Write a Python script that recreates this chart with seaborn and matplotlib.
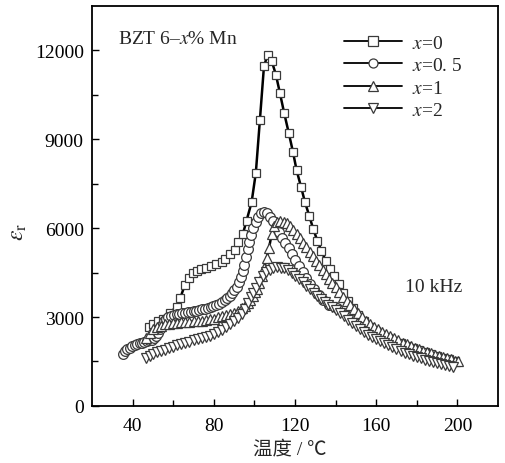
import matplotlib
matplotlib.use("Agg")
import matplotlib.pyplot as plt
import seaborn as sns
import pandas as pd

# ---------------- data ----------------
t_x0 = [47.9, 50.0, 52.5, 55.0, 58.3, 61.6, 63.5, 65.7, 67.7, 69.8, 71.8, 73.9, 76.3,
        78.8, 81.3, 83.8, 85.4, 88.0, 90.4, 92.0, 94.3, 96.1, 98.6, 100.7, 102.7, 104.7,
        106.5, 108.5, 110.6, 112.6, 114.7, 116.9, 119.0, 120.8, 123.0, 124.9, 127.1,
        129.0, 131.0, 133.0, 135.1, 137.3, 139.4, 141.6, 143.8, 146.0, 148.5, 151.0,
        154.0, 157.0, 160.0, 163.0, 166.0, 169.0, 172.0, 175.0, 178.0, 181.0, 184.0,
        187.0, 190.0, 193.0, 196.0, 199.0]
e_x0 = [2670, 2750, 2850, 2950, 3140, 3350, 3650, 4080, 4330, 4480, 4545, 4610, 4670,
        4730, 4790, 4860, 4970, 5120, 5270, 5520, 5800, 6250, 6870, 7870, 9650, 11460,
        11855, 11650, 11175, 10550, 9875, 9220, 8575, 7950, 7390, 6880, 6400,
        5970, 5580, 5240, 4900, 4615, 4390, 4100, 3800, 3540, 3290, 3070,
        2860, 2680, 2520, 2400, 2300, 2200, 2110, 2030, 1950, 1880, 1810,
        1750, 1690, 1630, 1580, 1520]

t_x05 = [35.0, 36.2, 37.4, 38.6, 39.8, 41.0, 42.2, 43.4, 44.6, 45.8, 47.0, 48.2, 49.4,
         50.6, 51.6, 52.6, 53.5, 54.3, 55.2, 56.2, 57.4, 58.8, 60.2, 61.6, 63.0, 64.4,
         65.8, 67.2, 68.6, 70.0, 71.4, 72.8, 74.2, 75.6, 77.0, 78.4, 79.8, 81.2, 82.6,
         84.0, 85.3, 86.6, 87.8, 89.0, 90.1, 91.2, 92.3, 93.3, 94.2, 95.0, 95.8, 96.6,
         97.4, 98.4, 99.5, 100.7, 102.0, 103.4, 104.8, 106.2, 107.6, 109.0, 110.5, 112.0,
         113.6, 115.2, 116.8, 118.5, 120.2, 122.0, 123.8, 125.6, 127.4, 129.4, 131.6,
         134.0, 137.0, 140.5]
e_x05 = [1760, 1850, 1920, 1970, 2010, 2050, 2080, 2110, 2140, 2160, 2190, 2210, 2240,
         2290, 2360, 2470, 2600, 2740, 2860, 2940, 3000, 3040, 3070, 3090, 3110, 3130,
         3150, 3160, 3180, 3200, 3220, 3240, 3260, 3280, 3310, 3340, 3370, 3410, 3450,
         3500, 3560, 3630, 3710, 3800, 3900, 4020, 4170, 4350, 4550, 4770, 5020, 5280,
         5530, 5780, 6010, 6220, 6390, 6500, 6550, 6500, 6380, 6230, 6050, 5870,
         5680, 5500, 5330, 5140, 4940, 4730, 4530, 4330, 4130, 3930, 3730,
         3560, 3420, 3310]

t_x1 = [46.8, 48.5, 50.2, 52.0, 54.0, 56.0, 58.0, 60.0, 62.0, 64.0, 66.0, 68.0, 70.0,
        72.0, 74.0, 76.0, 78.0, 80.0, 82.0, 84.0, 86.0, 88.0, 90.0, 92.0, 93.7, 95.3,
        96.7, 97.9, 99.2, 100.3, 101.3, 102.4, 103.6, 104.8, 106.0, 107.2, 108.5, 109.8,
        111.2, 112.8, 114.4, 116.0, 117.6, 119.2, 120.8, 122.4, 124.0, 125.6, 127.2,
        128.8, 130.4, 132.0, 133.6, 135.2, 136.8, 138.4, 140.0, 141.8, 143.6, 145.4,
        147.2, 149.0, 151.0, 153.0, 155.0, 157.0, 159.0, 161.0, 163.0, 165.0, 167.0,
        169.0, 171.0, 173.0, 175.0, 177.0, 179.0, 181.0, 183.0, 185.0, 187.0, 189.0,
        191.0, 193.0, 195.0, 197.0, 199.0, 200.5]
e_x1 = [2300, 2450, 2580, 2660, 2710, 2750, 2780, 2800, 2810, 2820, 2830, 2840, 2850,
        2860, 2870, 2890, 2920, 2950, 2990, 3030, 3060, 3090, 3140, 3200, 3290, 3370,
        3470, 3560, 3700, 3830, 3960, 4150, 4390, 4650, 4980, 5330, 5800, 6070,
        6210, 6250, 6220, 6160, 6060, 5940, 5800, 5660, 5510, 5360, 5200,
        5060, 4900, 4740, 4590, 4440, 4300, 4150, 4010, 3840, 3680, 3530,
        3400, 3270, 3130, 3000, 2880, 2770, 2670, 2580, 2500, 2420, 2350,
        2280, 2210, 2140, 2080, 2020, 1960, 1910, 1860, 1820, 1780, 1730,
        1690, 1650, 1610, 1570, 1530, 1500]

t_x2 = [46.8, 48.5, 50.2, 52.0, 54.0, 56.0, 58.0, 60.0, 62.0, 64.0, 66.0, 68.0, 70.0,
        72.0, 74.0, 76.0, 78.0, 80.0, 82.0, 84.0, 86.0, 88.0, 90.0, 92.0, 93.7, 95.3,
        96.9, 98.2, 99.4, 100.8, 102.3, 104.0, 105.8, 107.6, 109.4, 111.2, 113.0, 114.8,
        116.6, 118.4, 120.2, 122.0, 123.8, 125.6, 127.4, 129.2, 131.0, 132.8, 134.6,
        136.4, 138.2, 140.0, 142.0, 144.0, 146.0, 148.0, 150.0, 152.0, 154.0, 156.0,
        158.0, 160.0, 162.0, 164.0, 166.0, 168.0, 170.0, 172.0, 174.0, 176.0, 178.0,
        180.0, 182.0, 184.0, 186.0, 188.0, 190.0, 192.0, 194.0, 196.0, 198.0]
e_x2 = [1620, 1700, 1760, 1810, 1850, 1900, 1950, 1990, 2040, 2080, 2130, 2170, 2210,
        2250, 2280, 2320, 2360, 2430, 2490, 2570, 2670, 2760, 2870, 2970, 3090, 3260,
        3480, 3660, 3820, 3990, 4180, 4370, 4510, 4600, 4650, 4680, 4670, 4640,
        4580, 4500, 4400, 4290, 4170, 4060, 3940, 3820, 3720, 3620, 3520,
        3420, 3330, 3240, 3130, 3020, 2900, 2790, 2690, 2590, 2500, 2410,
        2330, 2250, 2180, 2110, 2050, 1990, 1920, 1860, 1800, 1750, 1700,
        1650, 1610, 1560, 1520, 1480, 1450, 1410, 1380, 1350, 1310]

series_labels = ["$x$=0", "$x$=0. 5", "$x$=1", "$x$=2"]
x_ticks = [40, 80, 120, 160, 200]
y_ticks = [0, 3000, 6000, 9000, 12000]

# ---------------- style ----------------
sns.set_theme(style="ticks")
plt.rcParams["font.family"] = ["Liberation Serif", "Noto Sans CJK SC", "DejaVu Sans"]
plt.rcParams["mathtext.fontset"] = "stix"

fig = plt.figure(figsize=(5.06, 4.64), dpi=100)
ax = fig.add_axes([0.182, 0.123, 0.802, 0.862])

markers = ["s", "o", "^", "v"]
msizes = [6.0, 7.0, 7.5, 7.5]
datasets = [(t_x0, e_x0), (t_x05, e_x05), (t_x1, e_x1), (t_x2, e_x2)]

for (tt, ee), lab, mk, ms in zip(datasets, series_labels, markers, msizes):
    df = pd.DataFrame({"T": tt, "eps": ee})
    sns.lineplot(data=df, x="T", y="eps", ax=ax, color="black", linewidth=1.8,
                 marker=mk, markersize=ms, markerfacecolor="white",
                 markeredgecolor="#3a3a3a", markeredgewidth=0.9, label=lab,
                 legend=False)

ax.set_xlim(20, 220)
ax.set_ylim(0, 13500)
ax.set_xticks(x_ticks)
ax.set_xticks([60, 100, 140, 180], minor=True)
ax.set_yticks(y_ticks)
ax.set_yticks([1500, 4500, 7500, 10500], minor=True)
ax.set_xticklabels([str(v) for v in x_ticks])
ax.set_yticklabels([str(v) for v in y_ticks])
ax.tick_params(which="both", direction="in", top=False, right=False,
               width=1.0, labelsize=14, colors="black")
ax.tick_params(which="major", length=5, pad=6)
ax.tick_params(which="minor", length=4)
ax.tick_params(axis="x", which="major", pad=8)
for sp in ax.spines.values():
    sp.set_linewidth(1.3)
    sp.set_color("black")
    sp.set_visible(True)

ax.set_xlabel("温度 / ℃", fontsize=14)
ax.xaxis.set_label_coords(0.488, -0.085)
ax.set_ylabel(r"$\varepsilon_{\mathrm{r}}$", fontsize=17)
ax.yaxis.set_label_coords(-0.155, 0.4375)

ax.text(0.064, 0.9175, "BZT 6–$x$% Mn", transform=ax.transAxes,
        fontsize=14, ha="left", va="center")
ax.text(0.771, 0.2975, "10 kHz", transform=ax.transAxes,
        fontsize=14, ha="left", va="center")

handles = ax.get_lines()[:4]
leg = ax.legend(handles=handles, labels=series_labels, loc="upper left",
                bbox_to_anchor=(0.62, 0.93), frameon=False, fontsize=14,
                handlelength=3.0, handletextpad=0.5, labelspacing=0.25,
                borderpad=0.0, borderaxespad=0.0)
for h in leg.legend_handles:
    h.set_linewidth(1.3)
    h.set_markersize(6.5)

fig.savefig("out.png", dpi=100)
